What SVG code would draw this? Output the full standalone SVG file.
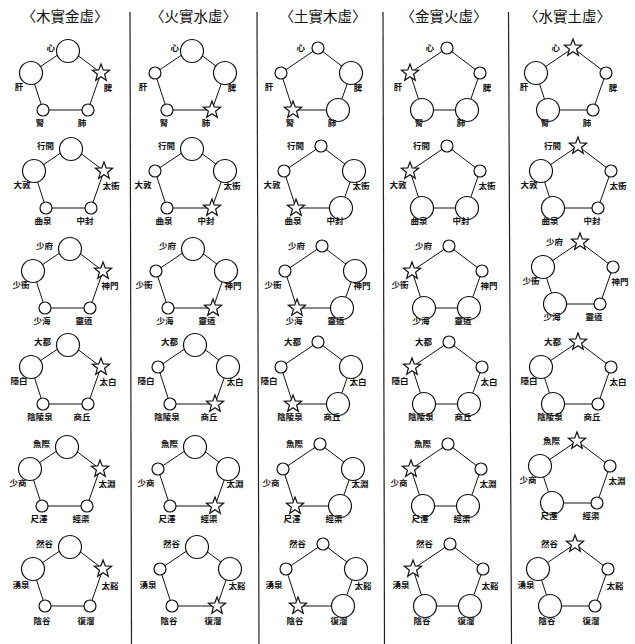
<svg xmlns="http://www.w3.org/2000/svg" xmlns:xlink="http://www.w3.org/1999/xlink" width="635" height="644" viewBox="0 0 635 644">
<style>
.e{fill:none;stroke:#111;stroke-width:1}
.b,.s,.st{fill:#fff;stroke:#111;stroke-width:1.2}
.lb{font-family:"Noto Sans CJK TC","Noto Sans CJK SC",sans-serif;font-size:8.5px;font-weight:bold;fill:#111;text-anchor:middle}
.lt{text-anchor:end}
.h{font-family:"Noto Sans CJK TC","Noto Sans CJK SC",sans-serif;font-size:14.5px;fill:#111;text-anchor:middle}
.dv{stroke:#222;stroke-width:1.2}
</style>
<defs>
<path id="star" d="M0,-9 L2.23,-3.07 8.56,-2.78 3.61,1.17 5.29,7.28 0,3.8 -5.29,7.28 -3.61,1.17 -8.56,-2.78 -2.23,-3.07 Z"/>
<polygon id="pent" points="0,0 33,25 20,62 -25,62 -37,25"/>
</defs>
<rect width="635" height="644" fill="#fff"/>
<g id="headers">
<text class="h" x="65" y="22">〈木實金虛〉</text>
<text class="h" x="193.5" y="22">〈火實水虛〉</text>
<text class="h" x="323" y="22">〈土實木虛〉</text>
<text class="h" x="444" y="22">〈金實火虛〉</text>
<text class="h" x="567.5" y="22">〈水實土虛〉</text>
</g>
<g id="dividers">
<line class="dv" x1="130" y1="12" x2="131.5" y2="644"/>
<line class="dv" x1="257" y1="12" x2="259" y2="644"/>
<line class="dv" x1="383" y1="12" x2="384.5" y2="644"/>
<line class="dv" x1="508.5" y1="12" x2="511.5" y2="644"/>
</g>
<g id="connectors" class="e">
<use href="#pent" x="68" y="48"/><use href="#pent" x="192" y="48"/><use href="#pent" x="318" y="48"/><use href="#pent" x="447" y="48"/><use href="#pent" x="573" y="48"/>
<use href="#pent" x="71" y="146"/><use href="#pent" x="192" y="146"/><use href="#pent" x="321" y="146"/><use href="#pent" x="447" y="146"/><use href="#pent" x="578" y="146"/>
<use href="#pent" x="70" y="246"/><use href="#pent" x="193" y="246"/><use href="#pent" x="322" y="246"/><use href="#pent" x="449" y="246"/><use href="#pent" x="580" y="242"/>
<use href="#pent" x="68" y="342"/><use href="#pent" x="195" y="342"/><use href="#pent" x="318" y="342"/><use href="#pent" x="449" y="342"/><use href="#pent" x="578" y="342"/>
<use href="#pent" x="67" y="444"/><use href="#pent" x="195" y="444"/><use href="#pent" x="320" y="444"/><use href="#pent" x="448" y="444"/><use href="#pent" x="577" y="441"/>
<use href="#pent" x="70" y="544"/><use href="#pent" x="197" y="544"/><use href="#pent" x="323" y="544"/><use href="#pent" x="450" y="544"/><use href="#pent" x="575" y="544"/>
</g>

<!-- Row 1 -->
<g id="r1c1" transform="translate(68,48)">
<g id="r1c1-T"><circle class="b" cx="0" cy="3" r="11.5"/><text class="lb lt" x="-13" y="2.5">心</text></g>
<g id="r1c1-L"><circle class="b" cx="-37" cy="25" r="11.5"/><text class="lb" x="-49" y="42">肝</text></g>
<g id="r1c1-R"><use href="#star" class="st" x="33" y="25"/><text class="lb" x="40" y="43">脾</text></g>
<g id="r1c1-BL"><circle class="s" cx="-25" cy="62" r="6"/><text class="lb" x="-28" y="78">腎</text></g>
<g id="r1c1-BR"><circle class="s" cx="20" cy="62" r="6"/><text class="lb" x="14" y="78">肺</text></g>
</g>
<g id="r1c2" transform="translate(192,48)">
<g id="r1c2-T"><circle class="b" cx="0" cy="3" r="11.5"/><text class="lb lt" x="-13" y="2.5">心</text></g>
<g id="r1c2-L"><circle class="s" cx="-37" cy="25" r="6"/><text class="lb" x="-49" y="42">肝</text></g>
<g id="r1c2-R"><circle class="b" cx="33" cy="25" r="11.5"/><text class="lb" x="40" y="43">脾</text></g>
<g id="r1c2-BL"><circle class="s" cx="-25" cy="62" r="6"/><text class="lb" x="-28" y="78">腎</text></g>
<g id="r1c2-BR"><use href="#star" class="st" x="20" y="62"/><text class="lb" x="14" y="78">肺</text></g>
</g>
<g id="r1c3" transform="translate(318,48)">
<g id="r1c3-T"><circle class="s" cx="0" cy="0" r="6"/><text class="lb lt" x="-13" y="2.5">心</text></g>
<g id="r1c3-L"><circle class="s" cx="-37" cy="25" r="6"/><text class="lb" x="-49" y="42">肝</text></g>
<g id="r1c3-R"><circle class="b" cx="33" cy="25" r="11.5"/><text class="lb" x="40" y="43">脾</text></g>
<g id="r1c3-BL"><use href="#star" class="st" x="-25" y="62"/><text class="lb" x="-28" y="78">腎</text></g>
<g id="r1c3-BR"><circle class="b" cx="20" cy="62" r="11.5"/><text class="lb" x="14" y="78">肺</text></g>
</g>
<g id="r1c4" transform="translate(447,48)">
<g id="r1c4-T"><circle class="s" cx="0" cy="0" r="6"/><text class="lb lt" x="-13" y="2.5">心</text></g>
<g id="r1c4-L"><use href="#star" class="st" x="-37" y="25"/><text class="lb" x="-49" y="42">肝</text></g>
<g id="r1c4-R"><circle class="s" cx="33" cy="25" r="6"/><text class="lb" x="40" y="43">脾</text></g>
<g id="r1c4-BL"><circle class="b" cx="-25" cy="62" r="11.5"/><text class="lb" x="-28" y="78">腎</text></g>
<g id="r1c4-BR"><circle class="b" cx="20" cy="62" r="11.5"/><text class="lb" x="14" y="78">肺</text></g>
</g>
<g id="r1c5" transform="translate(573,48)">
<g id="r1c5-T"><use href="#star" class="st" x="0" y="0"/><text class="lb lt" x="-13" y="2.5">心</text></g>
<g id="r1c5-L"><circle class="b" cx="-37" cy="25" r="11.5"/><text class="lb" x="-49" y="42">肝</text></g>
<g id="r1c5-R"><circle class="s" cx="33" cy="25" r="6"/><text class="lb" x="40" y="43">脾</text></g>
<g id="r1c5-BL"><circle class="b" cx="-25" cy="62" r="11.5"/><text class="lb" x="-28" y="78">腎</text></g>
<g id="r1c5-BR"><circle class="s" cx="20" cy="62" r="6"/><text class="lb" x="14" y="78">肺</text></g>
</g>

<!-- Row 2 -->
<g id="r2c1" transform="translate(71,146)">
<g id="r2c1-T"><circle class="b" cx="0" cy="3" r="11.5"/><text class="lb lt" x="-17" y="2.5">行間</text></g>
<g id="r2c1-L"><circle class="b" cx="-37" cy="25" r="11.5"/><text class="lb" x="-49" y="42">大敦</text></g>
<g id="r2c1-R"><use href="#star" class="st" x="33" y="25"/><text class="lb" x="40" y="43">太衝</text></g>
<g id="r2c1-BL"><circle class="s" cx="-25" cy="62" r="6"/><text class="lb" x="-28" y="78">曲泉</text></g>
<g id="r2c1-BR"><circle class="s" cx="20" cy="62" r="6"/><text class="lb" x="14" y="78">中封</text></g>
</g>
<g id="r2c2" transform="translate(192,146)">
<g id="r2c2-T"><circle class="b" cx="0" cy="3" r="11.5"/><text class="lb lt" x="-17" y="2.5">行間</text></g>
<g id="r2c2-L"><circle class="s" cx="-37" cy="25" r="6"/><text class="lb" x="-49" y="42">大敦</text></g>
<g id="r2c2-R"><circle class="b" cx="33" cy="25" r="11.5"/><text class="lb" x="40" y="43">太衝</text></g>
<g id="r2c2-BL"><circle class="s" cx="-25" cy="62" r="6"/><text class="lb" x="-28" y="78">曲泉</text></g>
<g id="r2c2-BR"><use href="#star" class="st" x="20" y="62"/><text class="lb" x="14" y="78">中封</text></g>
</g>
<g id="r2c3" transform="translate(321,146)">
<g id="r2c3-T"><circle class="s" cx="0" cy="0" r="6"/><text class="lb lt" x="-17" y="2.5">行間</text></g>
<g id="r2c3-L"><circle class="s" cx="-37" cy="25" r="6"/><text class="lb" x="-49" y="42">大敦</text></g>
<g id="r2c3-R"><circle class="b" cx="33" cy="25" r="11.5"/><text class="lb" x="40" y="43">太衝</text></g>
<g id="r2c3-BL"><use href="#star" class="st" x="-25" y="62"/><text class="lb" x="-28" y="78">曲泉</text></g>
<g id="r2c3-BR"><circle class="b" cx="20" cy="62" r="11.5"/><text class="lb" x="14" y="78">中封</text></g>
</g>
<g id="r2c4" transform="translate(447,146)">
<g id="r2c4-T"><circle class="s" cx="0" cy="0" r="6"/><text class="lb lt" x="-17" y="2.5">行間</text></g>
<g id="r2c4-L"><use href="#star" class="st" x="-37" y="25"/><text class="lb" x="-49" y="42">大敦</text></g>
<g id="r2c4-R"><circle class="s" cx="33" cy="25" r="6"/><text class="lb" x="40" y="43">太衝</text></g>
<g id="r2c4-BL"><circle class="b" cx="-25" cy="62" r="11.5"/><text class="lb" x="-28" y="78">曲泉</text></g>
<g id="r2c4-BR"><circle class="b" cx="20" cy="62" r="11.5"/><text class="lb" x="14" y="78">中封</text></g>
</g>
<g id="r2c5" transform="translate(578,146)">
<g id="r2c5-T"><use href="#star" class="st" x="0" y="0"/><text class="lb lt" x="-17" y="2.5">行間</text></g>
<g id="r2c5-L"><circle class="b" cx="-37" cy="25" r="11.5"/><text class="lb" x="-49" y="42">大敦</text></g>
<g id="r2c5-R"><circle class="s" cx="33" cy="25" r="6"/><text class="lb" x="40" y="43">太衝</text></g>
<g id="r2c5-BL"><circle class="b" cx="-25" cy="62" r="11.5"/><text class="lb" x="-28" y="78">曲泉</text></g>
<g id="r2c5-BR"><circle class="s" cx="20" cy="62" r="6"/><text class="lb" x="14" y="78">中封</text></g>
</g>

<!-- Row 3 -->
<g id="r3c1" transform="translate(70,246)">
<g id="r3c1-T"><circle class="b" cx="0" cy="3" r="11.5"/><text class="lb lt" x="-17" y="2.5">少府</text></g>
<g id="r3c1-L"><circle class="b" cx="-37" cy="25" r="11.5"/><text class="lb" x="-49" y="42">少衝</text></g>
<g id="r3c1-R"><use href="#star" class="st" x="33" y="25"/><text class="lb" x="40" y="43">神門</text></g>
<g id="r3c1-BL"><circle class="s" cx="-25" cy="62" r="6"/><text class="lb" x="-28" y="78">少海</text></g>
<g id="r3c1-BR"><circle class="s" cx="20" cy="62" r="6"/><text class="lb" x="14" y="78">靈道</text></g>
</g>
<g id="r3c2" transform="translate(193,246)">
<g id="r3c2-T"><circle class="b" cx="0" cy="3" r="11.5"/><text class="lb lt" x="-17" y="2.5">少府</text></g>
<g id="r3c2-L"><circle class="s" cx="-37" cy="25" r="6"/><text class="lb" x="-49" y="42">少衝</text></g>
<g id="r3c2-R"><circle class="b" cx="33" cy="25" r="11.5"/><text class="lb" x="40" y="43">神門</text></g>
<g id="r3c2-BL"><circle class="s" cx="-25" cy="62" r="6"/><text class="lb" x="-28" y="78">少海</text></g>
<g id="r3c2-BR"><use href="#star" class="st" x="20" y="62"/><text class="lb" x="14" y="78">靈道</text></g>
</g>
<g id="r3c3" transform="translate(322,246)">
<g id="r3c3-T"><circle class="s" cx="0" cy="0" r="6"/><text class="lb lt" x="-17" y="2.5">少府</text></g>
<g id="r3c3-L"><circle class="s" cx="-37" cy="25" r="6"/><text class="lb" x="-49" y="42">少衝</text></g>
<g id="r3c3-R"><circle class="b" cx="33" cy="25" r="11.5"/><text class="lb" x="40" y="43">神門</text></g>
<g id="r3c3-BL"><use href="#star" class="st" x="-25" y="62"/><text class="lb" x="-28" y="78">少海</text></g>
<g id="r3c3-BR"><circle class="b" cx="20" cy="62" r="11.5"/><text class="lb" x="14" y="78">靈道</text></g>
</g>
<g id="r3c4" transform="translate(449,246)">
<g id="r3c4-T"><circle class="s" cx="0" cy="0" r="6"/><text class="lb lt" x="-17" y="2.5">少府</text></g>
<g id="r3c4-L"><use href="#star" class="st" x="-37" y="25"/><text class="lb" x="-49" y="42">少衝</text></g>
<g id="r3c4-R"><circle class="s" cx="33" cy="25" r="6"/><text class="lb" x="40" y="43">神門</text></g>
<g id="r3c4-BL"><circle class="b" cx="-25" cy="62" r="11.5"/><text class="lb" x="-28" y="78">少海</text></g>
<g id="r3c4-BR"><circle class="b" cx="20" cy="62" r="11.5"/><text class="lb" x="14" y="78">靈道</text></g>
</g>
<g id="r3c5" transform="translate(580,242)">
<g id="r3c5-T"><use href="#star" class="st" x="0" y="0"/><text class="lb lt" x="-17" y="2.5">少府</text></g>
<g id="r3c5-L"><circle class="b" cx="-37" cy="25" r="11.5"/><text class="lb" x="-49" y="42">少衝</text></g>
<g id="r3c5-R"><circle class="s" cx="33" cy="25" r="6"/><text class="lb" x="40" y="43">神門</text></g>
<g id="r3c5-BL"><circle class="b" cx="-25" cy="62" r="11.5"/><text class="lb" x="-28" y="78">少海</text></g>
<g id="r3c5-BR"><circle class="s" cx="20" cy="62" r="6"/><text class="lb" x="14" y="78">靈道</text></g>
</g>

<!-- Row 4 -->
<g id="r4c1" transform="translate(68,342)">
<g id="r4c1-T"><circle class="b" cx="0" cy="3" r="11.5"/><text class="lb lt" x="-17" y="2.5">大都</text></g>
<g id="r4c1-L"><circle class="b" cx="-37" cy="25" r="11.5"/><text class="lb" x="-49" y="42">隱白</text></g>
<g id="r4c1-R"><use href="#star" class="st" x="33" y="25"/><text class="lb" x="40" y="43">太白</text></g>
<g id="r4c1-BL"><circle class="s" cx="-25" cy="62" r="6"/><text class="lb" x="-28" y="78">陰陵泉</text></g>
<g id="r4c1-BR"><circle class="s" cx="20" cy="62" r="6"/><text class="lb" x="14" y="78">商丘</text></g>
</g>
<g id="r4c2" transform="translate(195,342)">
<g id="r4c2-T"><circle class="b" cx="0" cy="3" r="11.5"/><text class="lb lt" x="-17" y="2.5">大都</text></g>
<g id="r4c2-L"><circle class="s" cx="-37" cy="25" r="6"/><text class="lb" x="-49" y="42">隱白</text></g>
<g id="r4c2-R"><circle class="b" cx="33" cy="25" r="11.5"/><text class="lb" x="40" y="43">太白</text></g>
<g id="r4c2-BL"><circle class="s" cx="-25" cy="62" r="6"/><text class="lb" x="-28" y="78">陰陵泉</text></g>
<g id="r4c2-BR"><use href="#star" class="st" x="20" y="62"/><text class="lb" x="14" y="78">商丘</text></g>
</g>
<g id="r4c3" transform="translate(318,342)">
<g id="r4c3-T"><circle class="s" cx="0" cy="0" r="6"/><text class="lb lt" x="-17" y="2.5">大都</text></g>
<g id="r4c3-L"><circle class="s" cx="-37" cy="25" r="6"/><text class="lb" x="-49" y="42">隱白</text></g>
<g id="r4c3-R"><circle class="b" cx="33" cy="25" r="11.5"/><text class="lb" x="40" y="43">太白</text></g>
<g id="r4c3-BL"><use href="#star" class="st" x="-25" y="62"/><text class="lb" x="-28" y="78">陰陵泉</text></g>
<g id="r4c3-BR"><circle class="b" cx="20" cy="62" r="11.5"/><text class="lb" x="14" y="78">商丘</text></g>
</g>
<g id="r4c4" transform="translate(449,342)">
<g id="r4c4-T"><circle class="s" cx="0" cy="0" r="6"/><text class="lb lt" x="-17" y="2.5">大都</text></g>
<g id="r4c4-L"><use href="#star" class="st" x="-37" y="25"/><text class="lb" x="-49" y="42">隱白</text></g>
<g id="r4c4-R"><circle class="s" cx="33" cy="25" r="6"/><text class="lb" x="40" y="43">太白</text></g>
<g id="r4c4-BL"><circle class="b" cx="-25" cy="62" r="11.5"/><text class="lb" x="-28" y="78">陰陵泉</text></g>
<g id="r4c4-BR"><circle class="b" cx="20" cy="62" r="11.5"/><text class="lb" x="14" y="78">商丘</text></g>
</g>
<g id="r4c5" transform="translate(578,342)">
<g id="r4c5-T"><use href="#star" class="st" x="0" y="0"/><text class="lb lt" x="-17" y="2.5">大都</text></g>
<g id="r4c5-L"><circle class="b" cx="-37" cy="25" r="11.5"/><text class="lb" x="-49" y="42">隱白</text></g>
<g id="r4c5-R"><circle class="s" cx="33" cy="25" r="6"/><text class="lb" x="40" y="43">太白</text></g>
<g id="r4c5-BL"><circle class="b" cx="-25" cy="62" r="11.5"/><text class="lb" x="-28" y="78">陰陵泉</text></g>
<g id="r4c5-BR"><circle class="s" cx="20" cy="62" r="6"/><text class="lb" x="14" y="78">商丘</text></g>
</g>

<!-- Row 5 -->
<g id="r5c1" transform="translate(67,444)">
<g id="r5c1-T"><circle class="b" cx="0" cy="3" r="11.5"/><text class="lb lt" x="-17" y="2.5">魚際</text></g>
<g id="r5c1-L"><circle class="b" cx="-37" cy="25" r="11.5"/><text class="lb" x="-49" y="42">少商</text></g>
<g id="r5c1-R"><use href="#star" class="st" x="33" y="25"/><text class="lb" x="40" y="43">太淵</text></g>
<g id="r5c1-BL"><circle class="s" cx="-25" cy="62" r="6"/><text class="lb" x="-28" y="78">尺澤</text></g>
<g id="r5c1-BR"><circle class="s" cx="20" cy="62" r="6"/><text class="lb" x="14" y="78">經渠</text></g>
</g>
<g id="r5c2" transform="translate(195,444)">
<g id="r5c2-T"><circle class="b" cx="0" cy="3" r="11.5"/><text class="lb lt" x="-17" y="2.5">魚際</text></g>
<g id="r5c2-L"><circle class="s" cx="-37" cy="25" r="6"/><text class="lb" x="-49" y="42">少商</text></g>
<g id="r5c2-R"><circle class="b" cx="33" cy="25" r="11.5"/><text class="lb" x="40" y="43">太淵</text></g>
<g id="r5c2-BL"><circle class="s" cx="-25" cy="62" r="6"/><text class="lb" x="-28" y="78">尺澤</text></g>
<g id="r5c2-BR"><use href="#star" class="st" x="20" y="62"/><text class="lb" x="14" y="78">經渠</text></g>
</g>
<g id="r5c3" transform="translate(320,444)">
<g id="r5c3-T"><circle class="s" cx="0" cy="0" r="6"/><text class="lb lt" x="-17" y="2.5">魚際</text></g>
<g id="r5c3-L"><circle class="s" cx="-37" cy="25" r="6"/><text class="lb" x="-49" y="42">少商</text></g>
<g id="r5c3-R"><circle class="b" cx="33" cy="25" r="11.5"/><text class="lb" x="40" y="43">太淵</text></g>
<g id="r5c3-BL"><use href="#star" class="st" x="-25" y="62"/><text class="lb" x="-28" y="78">尺澤</text></g>
<g id="r5c3-BR"><circle class="b" cx="20" cy="62" r="11.5"/><text class="lb" x="14" y="78">經渠</text></g>
</g>
<g id="r5c4" transform="translate(448,444)">
<g id="r5c4-T"><circle class="s" cx="0" cy="0" r="6"/><text class="lb lt" x="-17" y="2.5">魚際</text></g>
<g id="r5c4-L"><use href="#star" class="st" x="-37" y="25"/><text class="lb" x="-49" y="42">少商</text></g>
<g id="r5c4-R"><circle class="s" cx="33" cy="25" r="6"/><text class="lb" x="40" y="43">太淵</text></g>
<g id="r5c4-BL"><circle class="b" cx="-25" cy="62" r="11.5"/><text class="lb" x="-28" y="78">尺澤</text></g>
<g id="r5c4-BR"><circle class="b" cx="20" cy="62" r="11.5"/><text class="lb" x="14" y="78">經渠</text></g>
</g>
<g id="r5c5" transform="translate(577,441)">
<g id="r5c5-T"><use href="#star" class="st" x="0" y="0"/><text class="lb lt" x="-17" y="2.5">魚際</text></g>
<g id="r5c5-L"><circle class="b" cx="-37" cy="25" r="11.5"/><text class="lb" x="-49" y="42">少商</text></g>
<g id="r5c5-R"><circle class="s" cx="33" cy="25" r="6"/><text class="lb" x="40" y="43">太淵</text></g>
<g id="r5c5-BL"><circle class="b" cx="-25" cy="62" r="11.5"/><text class="lb" x="-28" y="78">尺澤</text></g>
<g id="r5c5-BR"><circle class="s" cx="20" cy="62" r="6"/><text class="lb" x="14" y="78">經渠</text></g>
</g>

<!-- Row 6 -->
<g id="r6c1" transform="translate(70,544)">
<g id="r6c1-T"><circle class="b" cx="0" cy="3" r="11.5"/><text class="lb lt" x="-17" y="2.5">然谷</text></g>
<g id="r6c1-L"><circle class="b" cx="-37" cy="25" r="11.5"/><text class="lb" x="-49" y="44">湧泉</text></g>
<g id="r6c1-R"><use href="#star" class="st" x="33" y="25"/><text class="lb" x="40" y="45">太谿</text></g>
<g id="r6c1-BL"><circle class="s" cx="-25" cy="62" r="6"/><text class="lb" x="-28" y="80">陰谷</text></g>
<g id="r6c1-BR"><circle class="s" cx="20" cy="62" r="6"/><text class="lb" x="16" y="80">復溜</text></g>
</g>
<g id="r6c2" transform="translate(197,544)">
<g id="r6c2-T"><circle class="b" cx="0" cy="3" r="11.5"/><text class="lb lt" x="-17" y="2.5">然谷</text></g>
<g id="r6c2-L"><circle class="s" cx="-37" cy="25" r="6"/><text class="lb" x="-49" y="44">湧泉</text></g>
<g id="r6c2-R"><circle class="b" cx="33" cy="25" r="11.5"/><text class="lb" x="40" y="45">太谿</text></g>
<g id="r6c2-BL"><circle class="s" cx="-25" cy="62" r="6"/><text class="lb" x="-28" y="80">陰谷</text></g>
<g id="r6c2-BR"><use href="#star" class="st" x="20" y="62"/><text class="lb" x="16" y="80">復溜</text></g>
</g>
<g id="r6c3" transform="translate(323,544)">
<g id="r6c3-T"><circle class="s" cx="0" cy="0" r="6"/><text class="lb lt" x="-17" y="2.5">然谷</text></g>
<g id="r6c3-L"><circle class="s" cx="-37" cy="25" r="6"/><text class="lb" x="-49" y="44">湧泉</text></g>
<g id="r6c3-R"><circle class="b" cx="33" cy="25" r="11.5"/><text class="lb" x="40" y="45">太谿</text></g>
<g id="r6c3-BL"><use href="#star" class="st" x="-25" y="62"/><text class="lb" x="-28" y="80">陰谷</text></g>
<g id="r6c3-BR"><circle class="b" cx="20" cy="62" r="11.5"/><text class="lb" x="16" y="80">復溜</text></g>
</g>
<g id="r6c4" transform="translate(450,544)">
<g id="r6c4-T"><circle class="s" cx="0" cy="0" r="6"/><text class="lb lt" x="-17" y="2.5">然谷</text></g>
<g id="r6c4-L"><use href="#star" class="st" x="-37" y="25"/><text class="lb" x="-49" y="44">湧泉</text></g>
<g id="r6c4-R"><circle class="s" cx="33" cy="25" r="6"/><text class="lb" x="40" y="45">太谿</text></g>
<g id="r6c4-BL"><circle class="b" cx="-25" cy="62" r="11.5"/><text class="lb" x="-28" y="80">陰谷</text></g>
<g id="r6c4-BR"><circle class="b" cx="20" cy="62" r="11.5"/><text class="lb" x="16" y="80">復溜</text></g>
</g>
<g id="r6c5" transform="translate(575,544)">
<g id="r6c5-T"><use href="#star" class="st" x="0" y="0"/><text class="lb lt" x="-17" y="2.5">然谷</text></g>
<g id="r6c5-L"><circle class="b" cx="-37" cy="25" r="11.5"/><text class="lb" x="-49" y="44">湧泉</text></g>
<g id="r6c5-R"><circle class="s" cx="33" cy="25" r="6"/><text class="lb" x="40" y="45">太谿</text></g>
<g id="r6c5-BL"><circle class="b" cx="-25" cy="62" r="11.5"/><text class="lb" x="-28" y="80">陰谷</text></g>
<g id="r6c5-BR"><circle class="s" cx="20" cy="62" r="6"/><text class="lb" x="16" y="80">復溜</text></g>
</g>
</svg>
